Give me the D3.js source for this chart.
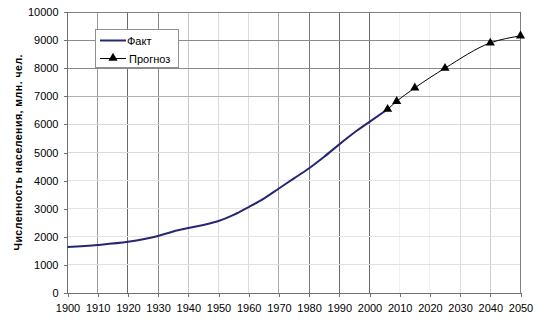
<!DOCTYPE html>
<html><head><meta charset="utf-8">
<script src="https://cdn.jsdelivr.net/npm/d3@7"></script>
<style>body{margin:0;background:#fff}svg{display:block}</style>
</head><body>
<svg id="c" width="535" height="323"></svg>
<script>
const factYears  = [1900,1910,1920,1930,1935,1940,1945,1950,1955,1960,1965,1970,1975,1980,1985,1990,1995,2000,2006];
const factValues = [1640,1710,1820,2030,2190,2310,2420,2560,2780,3060,3360,3720,4080,4440,4850,5290,5710,6090,6540];
const forecastYears  = [2006,2009,2015,2025,2040,2050];
const forecastValues = [6540,6820,7300,8000,8900,9150];
const xTicks = [1900,1910,1920,1930,1940,1950,1960,1970,1980,1990,2000,2010,2020,2030,2040,2050];
const yTicks = [0,1000,2000,3000,4000,5000,6000,7000,8000,9000,10000];
const seriesNames = ["Факт","Прогноз"];
const yTitle = "Численность населения, млн. чел.";

// gridline shades (as seen in the picture)
const vShade = {1910:"#9a9a9a",1920:"#6a6a6a",1930:"#8a8a8a",1940:"#c8c8c8",1950:"#dcdcdc",1960:"#dcdcdc",1970:"#a8a8a8",1980:"#7a7a7a",1990:"#6a6a6a",2000:"#6a6a6a",2010:"#f0f0f0",2020:"#f0f0f0",2030:"#dcdcdc",2040:"#cfcfcf"};
const hShade = {1000:"#e0e0e0",2000:"#e4e4e4",3000:"#e4e4e4",4000:"#e4e4e4",5000:"#dadada",6000:"#dadada",7000:"#b0b0b0",8000:"#8a8a8a",9000:"#8a8a8a"};

const svg = d3.select("#c");
const L=67.5, R=520.5, T=12, B=293;
const x = d3.scaleLinear().domain([1900,2050]).range([L,R]);
const y = d3.scaleLinear().domain([0,10000]).range([B,T]);
const font = "'Liberation Sans', Arial, sans-serif";

// grid
const g = svg.append("g");
xTicks.filter(v=>vShade[v]).forEach(v=>{
  g.append("line").attr("x1",x(v)).attr("x2",x(v)).attr("y1",T).attr("y2",B)
   .attr("stroke",vShade[v]).attr("stroke-width",1).attr("shape-rendering","crispEdges");
});
yTicks.filter(v=>hShade[v]).forEach(v=>{
  g.append("line").attr("x1",L).attr("x2",R).attr("y1",y(v)).attr("y2",y(v))
   .attr("stroke",hShade[v]).attr("stroke-width",1).attr("shape-rendering","crispEdges");
});
// frame top/right
svg.append("line").attr("x1",L).attr("x2",R).attr("y1",T).attr("y2",T).attr("stroke","#808080").attr("shape-rendering","crispEdges");
svg.append("line").attr("x1",R).attr("x2",R).attr("y1",T).attr("y2",B).attr("stroke","#808080").attr("shape-rendering","crispEdges");

// axes
const xAxis = d3.axisBottom(x).tickValues(xTicks).tickFormat(d3.format("d")).tickSize(4).tickPadding(7);
const yAxis = d3.axisLeft(y).tickValues(yTicks).tickFormat(d3.format("d")).tickSize(4).tickPadding(5);
const gx = svg.append("g").attr("transform",`translate(0,${B})`).call(xAxis);
const gy = svg.append("g").attr("transform",`translate(${L},0)`).call(yAxis);
[gx,gy].forEach(a=>{
  a.selectAll("path,line").attr("stroke","#707070").attr("shape-rendering","crispEdges");
  a.selectAll("text").attr("font-family",font).attr("font-size",11).attr("fill","#000");
});
gx.select(".domain").attr("d",`M${L},0H${R}`);
gy.select(".domain").attr("d",`M0,${T}V${B}`);

// y title
svg.append("text").attr("transform",`translate(22,${(T+B)/2}) rotate(-90)`)
  .attr("text-anchor","middle").attr("font-family",font).attr("font-size",10.5).attr("font-weight","bold")
  .attr("textLength",196).attr("lengthAdjust","spacing")
  .text(yTitle);

// lines
const fact = factYears.map((d,i)=>[d,factValues[i]]);
const fc = forecastYears.map((d,i)=>[d,forecastValues[i]]);
const line = d3.line().x(d=>x(d[0])).y(d=>y(d[1])).curve(d3.curveMonotoneX);
svg.append("path").attr("d",line(fc)).attr("fill","none").attr("stroke","#000").attr("stroke-width",1);
svg.append("path").attr("d",line(fact)).attr("fill","none").attr("stroke","#262673").attr("stroke-width",2);
const tri = d3.symbol().type(d3.symbolTriangle).size(36);
svg.selectAll(".m").data(fc).enter().append("path")
  .attr("d",tri).attr("transform",d=>`translate(${x(d[0])},${y(d[1])})`).attr("fill","#000");

// legend
const lg = svg.append("g");
lg.append("rect").attr("x",95.5).attr("y",29.5).attr("width",83).attr("height",38)
  .attr("fill","#fff").attr("stroke","#909090");
lg.append("line").attr("x1",100).attr("x2",126).attr("y1",40.5).attr("y2",40.5).attr("stroke","#262673").attr("stroke-width",2);
lg.append("text").attr("x",127).attr("y",44.5).attr("font-family",font).attr("font-size",11).text(seriesNames[0]);
lg.append("line").attr("x1",100).attr("x2",126).attr("y1",58.5).attr("y2",58.5).attr("stroke","#000").attr("stroke-width",1);
lg.append("path").attr("d",tri).attr("transform","translate(113,58)").attr("fill","#000");
lg.append("text").attr("x",129).attr("y",62.5).attr("font-family",font).attr("font-size",11).text(seriesNames[1]);
</script>
</body></html>
